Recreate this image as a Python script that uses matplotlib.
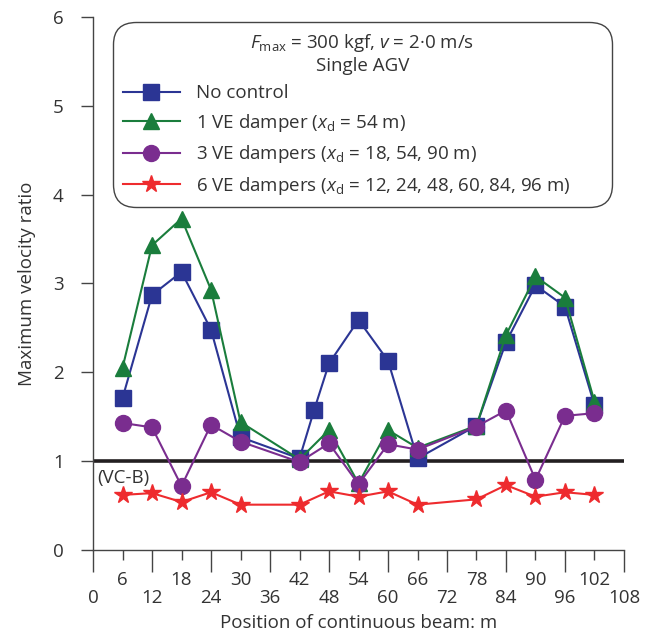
import numpy as np
import matplotlib
matplotlib.use('Agg')
import matplotlib.pyplot as plt
from matplotlib.ticker import MultipleLocator, FixedLocator

plt.rcParams['font.family'] = ['Open Sans', 'DejaVu Sans']
plt.rcParams['mathtext.fontset'] = 'custom'
plt.rcParams['mathtext.rm'] = 'Open Sans'
plt.rcParams['mathtext.it'] = 'Open Sans:italic'
plt.rcParams['font.size'] = 13.5

# Measurement positions along the beam (m)
x_all = [6, 12, 18, 24, 30, 42, 45, 48, 54, 60, 66, 78, 84, 90, 96, 102]
x_ctrl = [6, 12, 18, 24, 30, 42, 48, 54, 60, 66, 78, 84, 90, 96, 102]

no_control = [1.71, 2.87, 3.13, 2.48, 1.27, 1.03, 1.58, 2.10, 2.59, 2.13,
              1.03, 1.40, 2.34, 2.98, 2.74, 1.63]
one_damper = [2.05, 3.43, 3.73, 2.93, 1.44, 1.02, 1.35, 0.75, 1.35, 1.15,
              1.40, 2.42, 3.08, 2.84, 1.67]
three_dampers = [1.43, 1.38, 0.72, 1.41, 1.22, 0.99, 1.20, 0.74, 1.19, 1.13,
                 1.39, 1.57, 0.79, 1.51, 1.54]
six_dampers = [0.62, 0.64, 0.54, 0.65, 0.51, 0.51, 0.66, 0.60, 0.66, 0.51,
               0.57, 0.73, 0.60, 0.65, 0.62]

vc_b = 1.0

blue = '#2b3594'
green = '#1a7d3c'
purple = '#7a2d8f'
red = '#ee2b2e'
txt = '#333333'
fs = 13.5

fig = plt.figure(figsize=(6.56, 6.35), dpi=100)
ax = fig.add_axes([0.1418, 0.1339, 0.8094, 0.8393])

ax.axhline(vc_b, color='#231f20', linewidth=2.6, zorder=1)
ax.text(0.9, vc_b - 0.19, '(VC-B)', color=txt, fontsize=fs,
        ha='left', va='center')

ax.plot(x_all, no_control, '-s', color=blue, linewidth=1.5, markersize=11.5,
        label='No control', zorder=3)
ax.plot(x_ctrl, one_damper, '-^', color=green, linewidth=1.5, markersize=11.5,
        label=r'1 VE damper ($x_{\mathrm{d}}$ = 54 m)', zorder=4)
ax.plot(x_ctrl, three_dampers, '-o', color=purple, linewidth=1.5,
        markersize=11.5,
        label=r'3 VE dampers ($x_{\mathrm{d}}$ = 18, 54, 90 m)', zorder=5)
ax.plot(x_ctrl, six_dampers, '-*', color=red, linewidth=1.5, markersize=13,
        label=r'6 VE dampers ($x_{\mathrm{d}}$ = 12, 24, 48, 60, 84, 96 m)',
        zorder=6)

ax.set_xlim(0, 108)
ax.set_ylim(0, 6)
ax.spines['top'].set_visible(False)
ax.spines['right'].set_visible(False)
for s in ['left', 'bottom']:
    ax.spines[s].set_color('#444444')
    ax.spines[s].set_linewidth(1.0)

ax.yaxis.set_major_locator(MultipleLocator(1))
ax.tick_params(axis='y', direction='out', length=9, width=1.0,
               color='#444444', pad=12, labelcolor=txt, labelsize=fs)

# two rows of x labels: multiples of 12 low, odd multiples of 6 high
ax.xaxis.set_major_locator(FixedLocator(np.arange(0, 109, 12)))
ax.xaxis.set_minor_locator(FixedLocator(np.arange(6, 103, 12)))
ax.set_xticklabels([str(v) for v in range(0, 109, 12)])
ax.set_xticklabels([str(v) for v in range(6, 103, 12)], minor=True)
ax.tick_params(axis='x', which='major', direction='out', length=16,
               width=1.0, color='#444444', pad=12, labelcolor=txt,
               labelsize=fs)
ax.tick_params(axis='x', which='minor', direction='out', length=7,
               width=1.0, color='#444444', pad=8, labelcolor=txt,
               labelsize=fs)

ax.set_xlabel('Position of continuous beam: m', fontsize=fs,
              color=txt, labelpad=5)
ax.set_ylabel('Maximum velocity ratio', fontsize=fs, color=txt,
              labelpad=12)

leg = ax.legend(title='$F_{\\mathrm{max}}$ = 300 kgf, $v$ = 2·0 m/s\nSingle AGV',
                loc='upper left', bbox_to_anchor=(0.0377, 0.6417, 0.9393, 0.349),
                mode='expand', fontsize=fs, title_fontsize=fs,
                handlelength=3.0, handletextpad=0.9, labelspacing=0.5,
                borderpad=0.55, borderaxespad=0, fancybox=True,
                framealpha=1, edgecolor='#444444')
leg.get_frame().set_linewidth(1.0)
leg.get_frame().set_boxstyle('round,pad=0,rounding_size=1.2')
for t in leg.get_texts():
    t.set_color(txt)
leg.get_title().set_color(txt)
leg.get_title().set_multialignment('center')

fig.savefig('out.png', dpi=100)
